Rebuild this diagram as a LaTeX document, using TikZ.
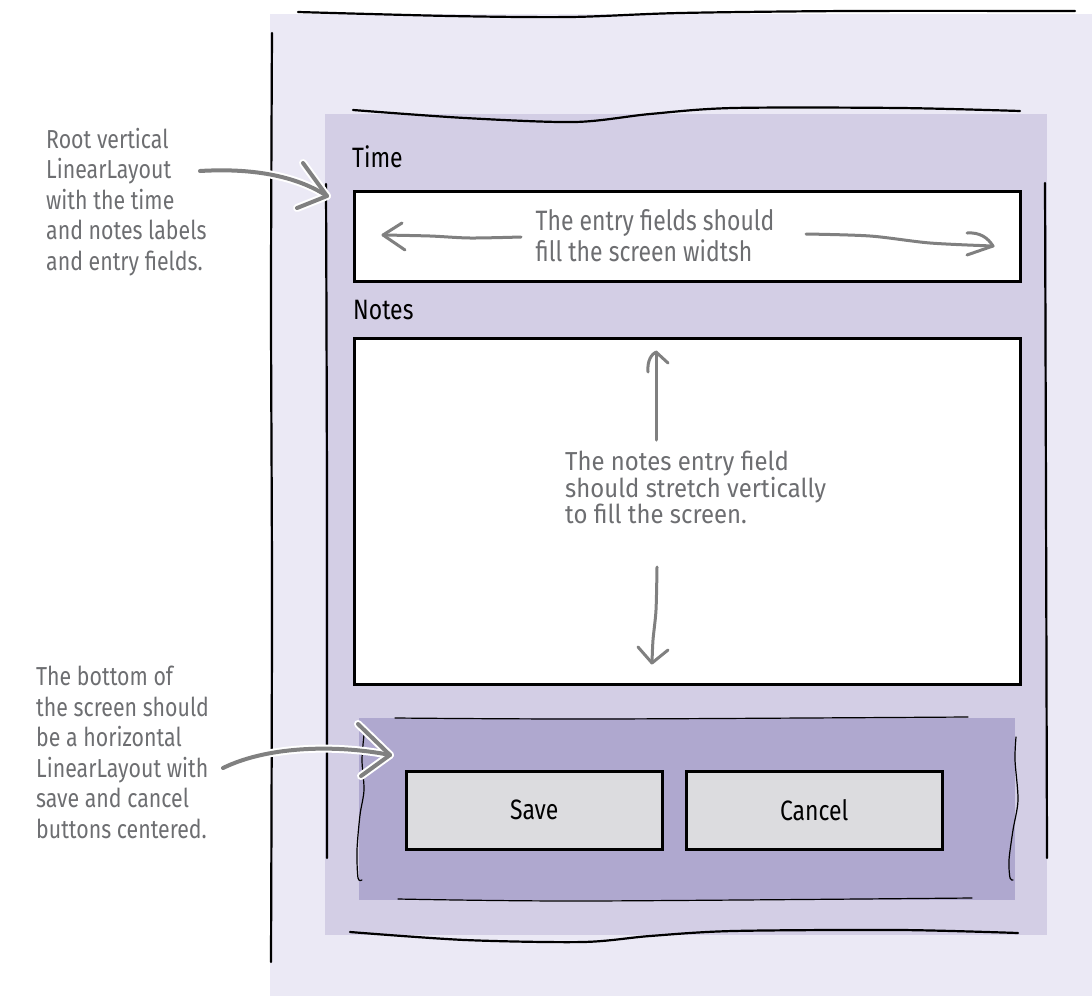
\documentclass[tikz,border=0pt]{standalone}
\usepackage{fontspec}
\setmainfont[FakeStretch=0.82]{Fira Sans}
\newfontfamily\widerfont[FakeStretch=0.92]{Fira Sans}
\definecolor{bglight}{HTML}{EBE9F5}
\definecolor{bgmid}{HTML}{D3CEE5}
\definecolor{bgdark}{HTML}{AFA8CF}
\definecolor{btnfill}{HTML}{DCDCDF}
\definecolor{notegray}{HTML}{6D6E71}
\definecolor{arrgray}{HTML}{808080}
\begin{document}
\begin{tikzpicture}[x=1pt,y=-1pt,
  sketch/.style={draw=black, line width=2.2pt, line cap=round, line join=round},
  thinsketch/.style={draw=black, line width=1.2pt, line cap=round, line join=round},
  field/.style={draw=black, line width=3pt, fill=white},
  button/.style={draw=black, line width=2.5pt, fill=btnfill},
  lbl/.style={font=\fontsize{28}{31}\selectfont, text=black, inner sep=0pt},
  note/.style={font=\fontsize{26}{30.5}\selectfont, text=notegray, inner sep=0pt, align=left},
  tnote/.style={font=\fontsize{28}{31}\selectfont, text=notegray, inner sep=0pt},
  inote/.style={font=\widerfont\fontsize{26}{25.5}\selectfont, text=notegray, inner sep=0pt},
  outl/.style={draw=white, line width=8pt, line cap=round, line join=round},
  annarrow/.style={draw=arrgray, line width=4pt, line cap=round, line join=round},
  inarrow/.style={draw=arrgray, line width=3pt, line cap=round, line join=round}]
\useasboundingbox (0,0) rectangle (1092,996);
% backgrounds
\fill[bglight] (270,14) rectangle (1092,996);
\fill[bgmid] (325,114) rectangle (1047,935);
\fill[bgdark] (359,718) rectangle (1015,900);
% sketch lines
\draw[sketch] plot[smooth] coordinates {(298,12) (450,16) (570,17) (680,13) (850,11) (1075,11)};
\draw[sketch] plot[smooth] coordinates {(272,33) (271,300) (272,600) (271,962)};
\draw[sketch] plot[smooth] coordinates {(353,110) (465,118) (575,122) (650,114) (733,108) (900,108) (1020,111)};
\draw[sketch] plot[smooth] coordinates {(350,932) (465,940) (583,942) (650,936) (733,931) (900,930) (1018,933)};
\draw[sketch] plot[smooth] coordinates {(326,184) (327,500) (327,858)};
\draw[sketch] plot[smooth] coordinates {(1045,183) (1046,500) (1047,858)};
\draw[thinsketch] plot[smooth] coordinates {(395,718) (600,719) (968,717)};
\draw[thinsketch] plot[smooth] coordinates {(398,899) (583,901) (972,898)};
\draw[thinsketch] plot[smooth] coordinates {(364,735) (362,760) (364,790) (360,815) (357,850) (358,878) (362,880)};
\draw[thinsketch] plot[smooth] coordinates {(1016,737) (1015,760) (1018,800) (1013,830) (1009,860) (1010,878) (1013,880)};
% fields
\node[field, minimum width=666pt, minimum height=90pt, anchor=north west] (timebox) at (353,190) {};
\node[field, minimum width=666pt, minimum height=346pt, anchor=north west] (notesbox) at (353,337) {};
\node[button, minimum width=256pt, minimum height=78pt, anchor=north west] (save) at (405,770) {};
\node[button, minimum width=256pt, minimum height=78pt, anchor=north west] (cancel) at (685,770) {};
\node[lbl] (savetxt) at (save.center) {Save};
\node[lbl] (canceltxt) at (cancel.center) {Cancel};
\node[lbl, anchor=base west] (timelbl) at (352,167) {Time};
\node[lbl, anchor=base west] (noteslbl) at (353,319) {Notes};
% time box text and arrows
\node[tnote, align=left, anchor=north] (ttext) at (655,209) {The entry fields should\\fill the screen widtsh};
\coordinate (ls) at (521,237);
\coordinate (lt) at (383,235);
\draw[inarrow] plot[smooth] coordinates {(ls) (470,238) (430,236) (lt)};
\draw[inarrow] (402,223) -- (lt) -- (405,250);
\coordinate (rs) at (806,234);
\coordinate (rt) at (993,246);
\draw[inarrow] plot[smooth] coordinates {(rs) (870,236) (930,243) (rt)};
\draw[inarrow] (967,233) .. controls (980,232) and (988,238) .. (rt) -- (967,255);
% notes text and arrows
\node[inote, align=left, anchor=north west] (ntext) at (565,451) {The notes entry field\\should stretch vertically\\to fill the screen.};
\coordinate (us) at (656,440);
\coordinate (ut) at (656,352);
\draw[inarrow] (us) -- (ut);
\draw[inarrow] (648,372) .. controls (647,360) and (652,354) .. (ut) -- (668,363);
\coordinate (ds) at (657,567);
\coordinate (dt) at (652,663);
\draw[inarrow] plot[smooth] coordinates {(ds) (656,610) (653,640) (dt)};
\draw[inarrow] (638,647) -- (dt) -- (668,650);
% annotations
\node[note, anchor=north west] (ann1) at (46,128) {Root vertical\\LinearLayout\\with the time\\and notes labels\\and entry fields.};
\node[note, anchor=north west] (ann2) at (36,666) {The bottom of\\the screen should\\be a horizontal\\LinearLayout with\\save and cancel\\buttons centered.};
\coordinate (a1s) at (200,171);
\coordinate (a1t) at (327,196);
\coordinate (a1u) at (303,163);
\coordinate (a1l) at (297,208);
\draw[outl] (a1s) .. controls (250,168) and (295,175) .. (a1t);
\draw[outl] (a1u) -- (a1t) -- (a1l);
\draw[annarrow] (a1s) .. controls (250,168) and (295,175) .. (a1t);
\draw[annarrow] (a1u) -- (a1t) -- (a1l);
\coordinate (a2s) at (223,768);
\coordinate (a2t) at (390,755);
\coordinate (a2u) at (358,724);
\coordinate (a2l) at (361,776);
\draw[outl] (a2s) .. controls (270,745) and (340,745) .. (a2t);
\draw[outl] (a2u) -- (a2t) -- (a2l);
\draw[annarrow] (a2s) .. controls (270,745) and (340,745) .. (a2t);
\draw[annarrow] (a2u) -- (a2t) -- (a2l);
\end{tikzpicture}
\end{document}
